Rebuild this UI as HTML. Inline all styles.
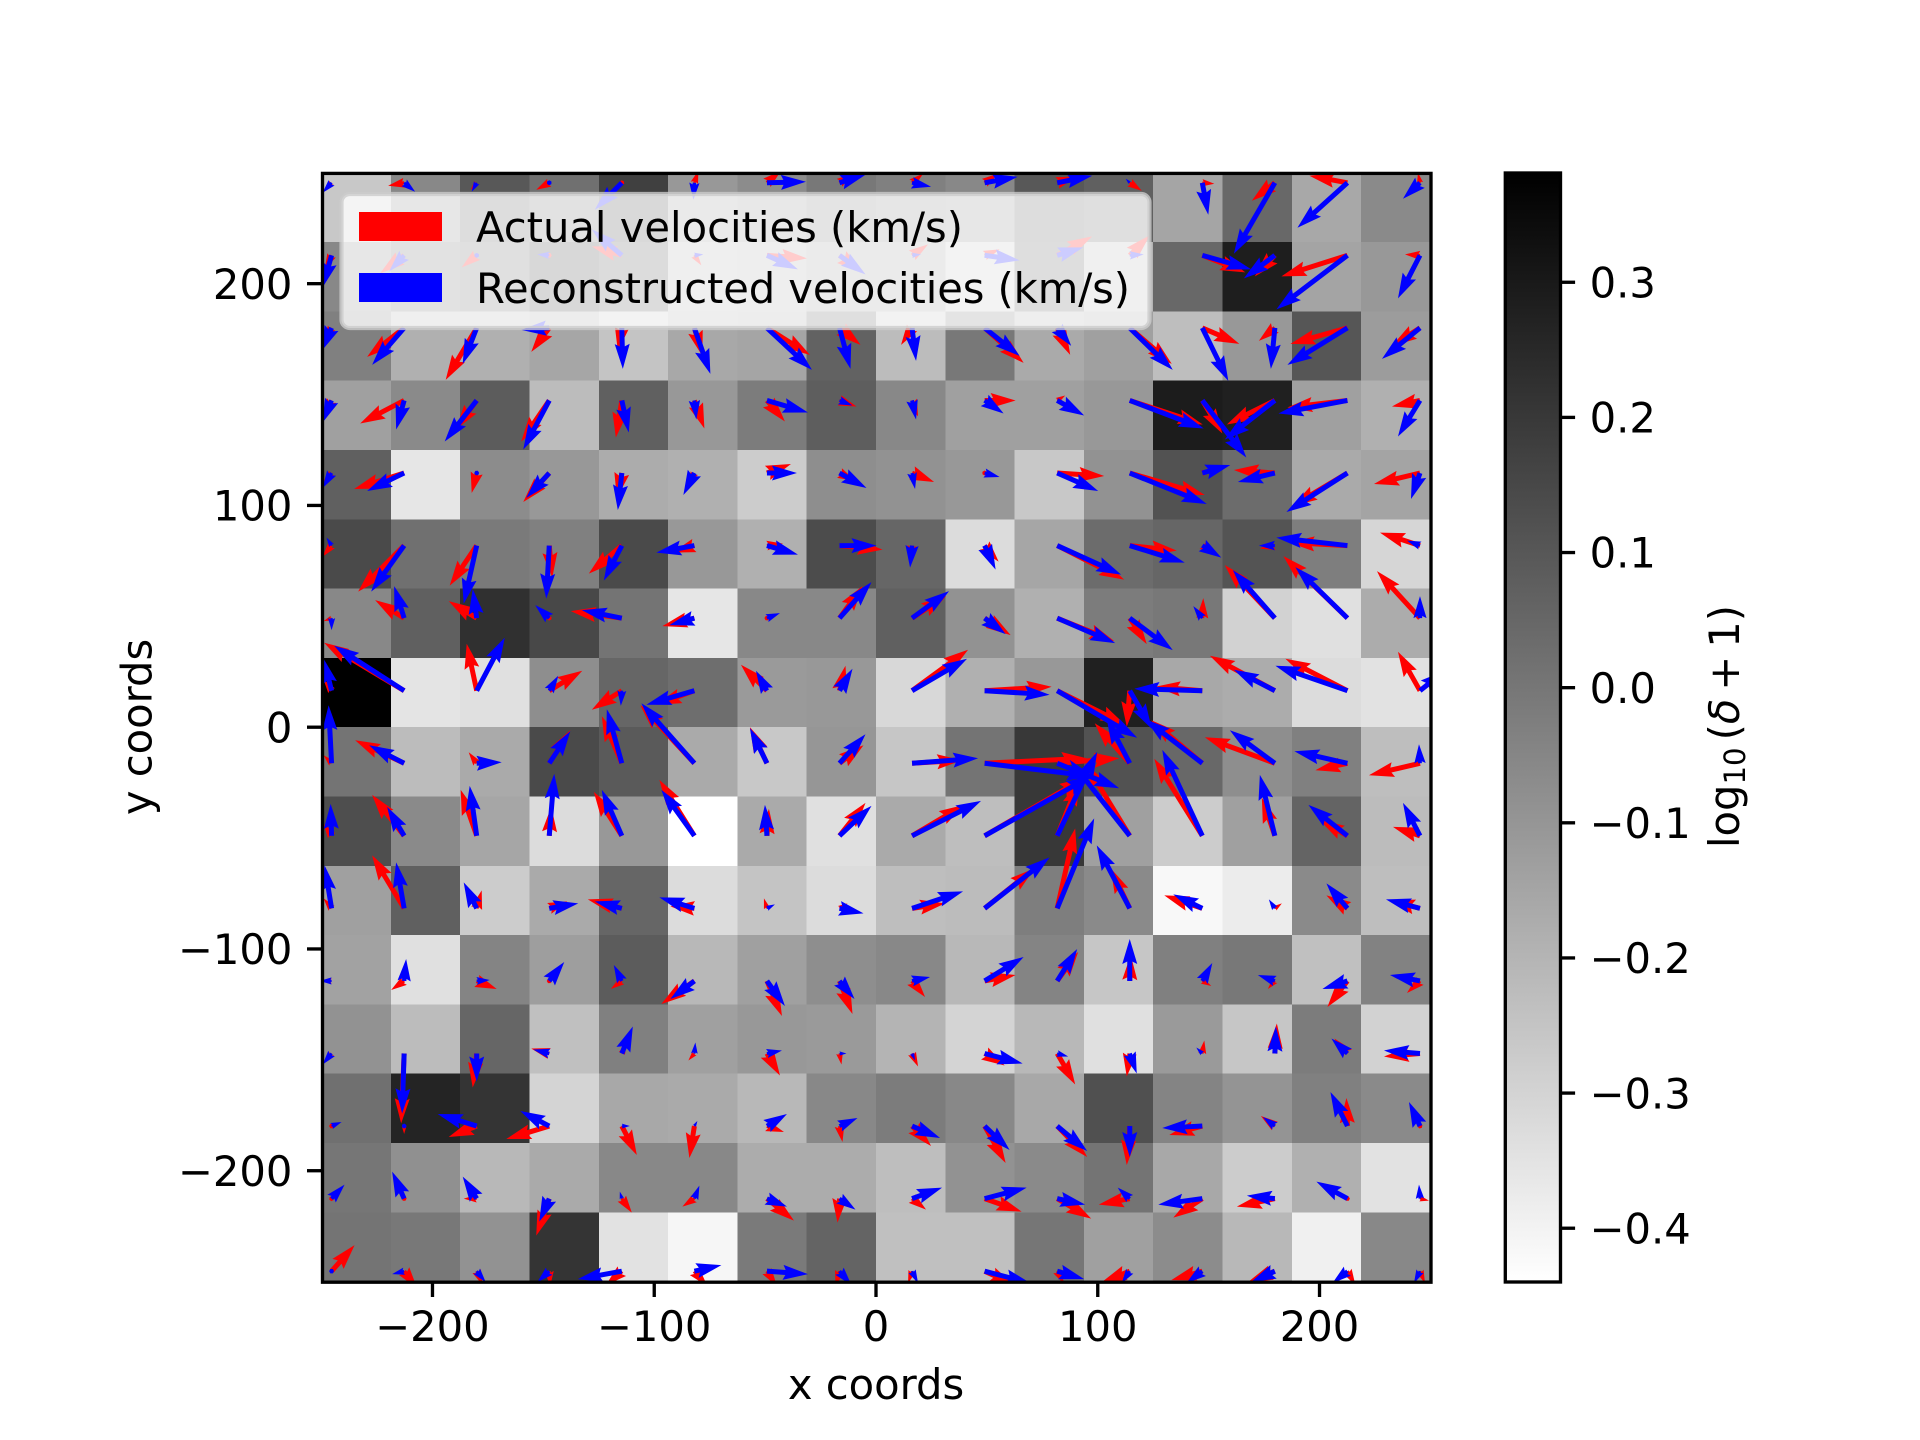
<!DOCTYPE html>
<html lang="en">
<head>
<meta charset="utf-8">
<title>Velocity field over density</title>
<style>
html,body{margin:0;padding:0;background:#fff;}
svg{display:block;}
text{font-family:"DejaVu Sans","Liberation Sans",sans-serif;font-size:41.67px;fill:#000;}
</style>
</head>
<body>
<svg id="chart" xmlns="http://www.w3.org/2000/svg" width="1920" height="1440" viewBox="0 0 1920 1440">
<defs>
<clipPath id="axes-clip"><rect x="322" y="173" width="1109" height="1109"/></clipPath>
<linearGradient id="cbar-gradient" x1="0" y1="0" x2="0" y2="1"><stop offset="0" stop-color="#000"/><stop offset="1" stop-color="#fff"/></linearGradient>
</defs>
<rect x="0" y="0" width="1920" height="1440" fill="#fff"/>
<g id="heatmap"></g>
<g id="quiver" clip-path="url(#axes-clip)"></g>
<g id="axis-ticks"></g>
<rect x="322.5" y="173.4" width="1108.5" height="1108.8" fill="none" stroke="#000" stroke-width="3.33"/>
<g>
<rect x="341.5" y="194" width="808" height="134" rx="8.3" ry="8.3" fill="#fff" fill-opacity="0.8" stroke="#ccc" stroke-opacity="0.8" stroke-width="4.17"/>
<rect x="359" y="212" width="83" height="29" fill="#f00"/>
<text x="476" y="242">Actual velocities (km/s)</text>
<rect x="359" y="273" width="83" height="29" fill="#00f"/>
<text x="476" y="303" textLength="654" lengthAdjust="spacing">Reconstructed velocities (km/s)</text>
</g>
<text x="876" y="1399" text-anchor="middle">x coords</text>
<text transform="translate(151.7 727) rotate(-90)" text-anchor="middle">y coords</text>
<rect x="1505.3" y="173" width="55.2" height="1109" fill="url(#cbar-gradient)" stroke="#000" stroke-width="3.33"/>
<g id="colorbar-ticks"></g>
<text transform="translate(1739 726.5) rotate(-90)" text-anchor="middle">log<tspan font-size="29.2" dy="6">10</tspan><tspan dy="-6" dx="7">(</tspan><tspan font-style="italic">δ</tspan><tspan dx="8">+</tspan><tspan dx="8">1</tspan><tspan>)</tspan></text>
</svg>
<script>
const logDensity = [
[-.263,-.057,.098,.021,.175,-.108,-.070,-.005,-.031,-.057,.098,.072,-.150,.046,-.160,-.063],
[-.057,.027,.059,.188,.124,-.182,-.166,-.118,-.118,-.246,.091,-.198,.046,.284,-.147,-.108],
[-.031,-.185,-.185,-.153,-.250,-.160,-.150,.066,-.224,-.005,-.166,-.134,-.230,-.108,.104,-.121],
[-.134,-.063,.085,-.224,.072,-.108,-.018,.079,-.057,-.134,-.134,-.108,.291,.278,-.134,-.185],
[.072,-.359,-.070,-.108,-.173,-.185,-.275,-.076,-.089,-.108,-.263,-.089,.117,.033,-.166,-.147],
[.143,.021,-.012,-.031,.143,-.108,-.185,.136,.053,-.327,-.153,.033,.053,.111,-.024,-.308],
[-.057,.072,.227,.149,.008,-.359,-.057,-.057,.072,-.089,-.185,-.018,-.005,-.295,-.340,-.173],
[.381,-.353,-.340,-.076,.053,.027,-.115,-.108,-.314,-.185,-.108,.278,-.160,-.173,-.327,-.346],
[.008,-.224,-.166,.143,.091,-.166,-.263,-.102,-.256,.008,.201,.117,.046,-.076,-.031,-.230],
[.130,-.063,-.153,-.327,-.108,-.440,-.166,-.340,-.166,-.230,.201,-.134,-.275,-.134,.059,-.224],
[-.134,.072,-.275,-.166,.053,-.327,-.250,-.327,-.230,-.224,-.024,-.063,-.417,-.378,-.063,-.230],
[-.140,-.340,-.044,-.127,.085,-.211,-.134,-.076,-.057,-.211,-.044,-.256,-.031,-.005,-.237,-.037],
[-.089,-.224,.053,-.237,-.031,-.134,-.108,-.115,-.198,-.301,-.211,-.340,-.115,-.256,-.018,-.295],
[.021,.265,.214,-.301,-.160,-.166,-.211,-.057,-.018,-.057,-.160,.124,-.044,-.095,-.031,-.063],
[.001,-.082,-.211,-.166,-.057,-.057,-.173,-.173,-.230,-.089,-.063,.008,-.160,-.275,-.185,-.346],
[.008,-.005,-.089,.214,-.346,-.411,-.012,.059,-.237,-.237,.001,-.134,-.070,-.211,-.391,-.057]
];
const actualU = [
[-7,-16,-6,-13,-3,4,14,13,11,13,19,12,12,-23,-38,-2],
[-7,-24,-15,-2,-30,7,40,22,16,15,35,20,43,-20,-66,-15],
[-8,-37,-31,-18,-4,8,43,21,-11,39,13,42,37,-16,-57,-28],
[-8,-44,-21,-28,-6,10,18,17,6,31,8,73,20,-48,-60,-28],
[-8,-50,-5,-26,-5,-6,24,16,22,-4,47,75,10,-41,-55,-46],
[-9,-46,-27,3,-33,-22,16,43,-2,14,67,47,10,-15,-58,-40],
[-8,-29,-28,-3,-51,-32,2,23,34,26,57,17,1,-50,-64,-43],
[-8,-80,-10,33,-30,-38,-26,6,56,67,68,-3,-47,-65,-62,-22],
[-8,-49,-8,21,-20,-54,-17,24,50,102,62,-35,-51,-70,-32,-51],
[-8,-32,-16,2,-28,-35,2,26,52,100,22,-44,-48,-13,-28,-27],
[-8,-32,5,18,-34,-24,-3,8,33,50,18,-19,-38,7,-21,-30],
[-10,-13,20,0,-11,-33,15,13,13,31,21,1,9,-7,-20,-13],
[-7,-3,-4,-18,5,-6,13,2,6,20,18,-3,2,2,-13,-36],
[1,0,-28,-43,15,-5,17,3,19,21,30,-3,-33,-14,-1,-1],
[3,0,-13,-13,10,-12,27,-2,14,37,34,-31,-29,-38,-1,9],
[23,13,6,1,-16,13,10,-4,-4,30,7,-28,-31,-27,8,5]
];
const actualV = [
[-7,-3,-7,-7,-3,12,12,9,9,9,6,-8,-1,-18,7,10],
[-14,-18,-12,0,9,-10,-3,-17,11,6,19,20,-17,-21,-21,1],
[-12,-29,-52,-24,-23,-28,-27,-17,-17,-35,-27,-36,-16,-13,-16,-18],
[-16,-23,-29,-41,-37,-28,-21,-6,-16,0,5,-24,-33,-24,-7,-6],
[-8,-16,-20,-29,-25,-12,9,-8,-9,2,-3,-22,3,3,-33,-11],
[-11,-46,-40,-32,-28,-7,2,-4,-15,-16,-34,-5,-9,-3,3,13],
[-3,18,17,2,7,-8,-4,32,22,-17,-23,-26,20,53,62,47],
[11,48,47,20,-19,-14,26,25,41,4,-34,-36,4,35,32,39],
[8,23,11,33,47,58,36,18,3,5,5,40,43,26,-7,-12],
[12,41,46,29,44,56,27,33,31,58,55,72,77,38,16,9],
[10,53,18,7,9,2,10,5,5,40,80,40,13,5,13,8],
[0,-9,-8,0,-8,-23,-35,-33,-16,6,29,26,-5,-8,-26,-12],
[-9,-70,-34,5,10,-7,-22,-11,-13,-12,-31,-23,13,30,15,-3],
[0,-8,-11,-13,-29,-32,-6,-16,-20,-37,-31,-39,-9,10,28,1],
[-2,0,0,-37,-14,-8,-22,-24,-11,-13,-20,-6,-19,-8,0,-2],
[26,-17,-14,-15,-14,-15,-15,-15,-12,-14,-13,-11,-9,-11,-14,-12]
];
const reconU = [
[-9,11,-5,-2,-27,-1,39,26,19,33,35,-4,6,-41,-50,-17],
[-9,-15,-2,-12,-30,9,31,26,9,35,26,14,49,-31,-71,-22],
[-10,-32,-14,-28,1,16,45,11,4,35,14,43,26,-4,-60,-38],
[-9,-8,-32,-26,7,2,41,13,4,19,27,74,44,-50,-69,-22],
[-9,-37,1,-23,-4,-11,30,27,3,15,41,77,28,-37,-61,-9],
[-5,-33,-13,-3,-18,-38,31,37,-2,11,64,55,19,-16,-71,-13],
[0,-10,-4,-14,-40,-25,13,32,37,21,58,43,-9,-42,-52,0],
[-8,-70,28,9,-1,-48,-11,13,55,65,80,22,-68,-41,-72,25],
[-3,-35,25,21,-15,-53,-17,26,66,107,62,-23,-57,-45,-53,-1],
[-1,-17,-7,5,-20,-33,-2,32,69,107,40,-60,-40,-15,-39,-17],
[-7,-8,-13,29,-27,-35,8,24,51,65,37,-33,-29,-6,-21,-34],
[-12,2,13,15,-8,-24,18,15,18,39,20,0,10,-17,-25,-30],
[-9,-2,0,-16,11,1,15,7,3,38,11,7,-6,1,-16,-36],
[10,4,-39,-29,8,3,20,18,28,25,30,0,-40,-12,-17,-11],
[13,-12,-14,-10,-2,5,20,16,30,42,28,-12,-44,-28,-31,-1],
[0,-12,9,-12,-44,27,41,12,6,46,27,-8,-16,-24,-15,-6]
];
const reconV = [
[-10,-9,-9,-1,-27,-17,1,8,-4,6,7,4,-32,-71,-45,-16],
[-32,-16,-1,1,26,1,-14,-19,1,-5,8,1,-14,-23,-54,-43],
[-23,-37,-36,-2,-41,-46,-42,-41,-33,-28,-18,-42,-53,-41,-37,-31],
[-22,-29,-41,-49,-32,-19,-12,-5,-19,-13,-15,-28,-57,-39,-13,-36],
[-15,-18,2,-25,-37,-22,0,-15,-16,-4,-18,-31,8,-9,-39,-26],
[8,-46,-58,-53,-35,-7,-9,0,-22,-24,-29,-17,-12,0,8,5],
[-12,32,29,13,8,-7,5,36,27,-16,-25,-32,12,48,51,22],
[32,45,53,15,-15,-14,20,22,32,-4,-47,-38,2,21,25,20],
[58,18,1,32,54,60,35,29,5,-13,-25,44,44,33,12,19],
[32,29,50,62,46,46,31,30,35,60,84,76,86,61,31,33],
[43,46,26,5,7,11,4,-5,17,51,90,63,14,9,25,9],
[0,22,1,19,16,-18,-25,-18,4,24,32,42,18,6,-8,6],
[-11,-60,-28,4,27,11,3,0,-7,-10,-3,-20,6,27,15,3],
[4,2,12,15,0,5,12,8,-12,-24,-25,-31,-2,9,34,24],
[14,27,22,-23,7,13,-8,-11,11,11,-6,11,-6,3,17,14],
[0,-3,-11,-11,-8,6,-3,-14,-12,-12,-8,-12,-12,-11,-12,-12]
];
const xTicks = [-200,-100,0,100,200];
const yTicks = [-200,-100,0,100,200];
const colorbarTicks = [0.3,0.2,0.1,0,-0.1,-0.2,-0.3,-0.4];

const SVGNS = 'http://www.w3.org/2000/svg';
const axLeft = 321.6, axTop = 172.8, axSize = 1108.8;
const dataMin = -250, dataMax = 250;
const vMin = -0.4395, vMax = 0.381;
const cbRight = 1560.5;
const gridStart = -245.5, gridStep = 32.72;
const quiverScale = 1;
const shaft = 5;

function xScale(x){ return axLeft + (x - dataMin) / (dataMax - dataMin) * axSize; }
function yScale(y){ return axTop + (dataMax - y) / (dataMax - dataMin) * axSize; }
function colorScale(v){ return axTop + (vMax - v) / (vMax - vMin) * axSize; }
function grayLevel(v){
  const t = Math.max(0, Math.min(1, (v - vMin) / (vMax - vMin)));
  const g = Math.round(255 * (1 - t));
  return 'rgb(' + g + ',' + g + ',' + g + ')';
}
function label(v, digits){
  const s = Math.abs(v).toFixed(digits);
  return (v < 0 ? '\u2212' : '') + s;
}
function add(parent, tag, attrs){
  const el = document.createElementNS(SVGNS, tag);
  for (const k in attrs) el.setAttribute(k, attrs[k]);
  parent.appendChild(el);
  return el;
}

const heatmap = document.getElementById('heatmap');
const cellSpan = (dataMax - dataMin) / logDensity.length;
logDensity.forEach(function(row, j){
  row.forEach(function(v, i){
    const x0 = xScale(dataMin + i * cellSpan), x1 = xScale(dataMin + (i + 1) * cellSpan);
    const y0 = yScale(dataMax - j * cellSpan), y1 = yScale(dataMax - (j + 1) * cellSpan);
    const cell = add(heatmap, 'rect', {x:x0, y:y0, width:x1 - x0, height:y1 - y0, fill:grayLevel(v), 'shape-rendering':'crispEdges'});
    
    
  });
});

function arrowPoints(tx, ty, u, v){
  const dx = u * quiverScale, dy = -v * quiverScale;
  const L = Math.hypot(dx, dy);
  const ca = L ? dx / L : 1, sa = L ? dy / L : 0;
  let local;
  if (L < shaft) {
    const r = shaft / 2;
    local = [[r,0],[r/2,r*.87],[-r/2,r*.87],[-r,0],[-r/2,-r*.87],[r/2,-r*.87]];
  } else {
    const s = Math.min(1, L / (5 * shaft));
    const w = shaft * s, hw = 1.5 * w, hl = 5 * w, hal = 4.5 * w;
    local = [[0,w/2],[L-hal,w/2],[L-hl,hw],[L,0],[L-hl,-hw],[L-hal,-w/2],[0,-w/2]];
  }
  return local.map(function(p){
    return (tx + p[0]*ca - p[1]*sa).toFixed(2) + ',' + (ty + p[0]*sa + p[1]*ca).toFixed(2);
  }).join(' ');
}
const quiver = document.getElementById('quiver');
function drawField(uu, vv, color, nameText){
  uu.forEach(function(row, j){
    row.forEach(function(u, i){
      const tx = xScale(gridStart + i * gridStep);
      const ty = yScale(-gridStart - j * gridStep);
      const arrow = add(quiver, 'polygon', {points:arrowPoints(tx, ty, u, vv[j][i]), fill:color});
      
      
    });
  });
}
drawField(actualU, actualV, '#f00', 'actual-velocity-arrow');
drawField(reconU, reconV, '#00f', 'reconstructed-velocity-arrow');

const axisTicks = document.getElementById('axis-ticks');
xTicks.forEach(function(t){
  const px = xScale(t);
  const mark = add(axisTicks, 'line', {x1:px, x2:px, y1:axTop + axSize, y2:axTop + axSize + 15.4, stroke:'#000', 'stroke-width':3.33});
  
  
  const txt = add(axisTicks, 'text', {x:px, y:1341, 'text-anchor':'middle'});
  txt.textContent = label(t, 0);
  
  
});
yTicks.forEach(function(t){
  const py = yScale(t);
  const mark = add(axisTicks, 'line', {x1:axLeft - 14.6, x2:axLeft, y1:py, y2:py, stroke:'#000', 'stroke-width':3.33});
  
  
  const txt = add(axisTicks, 'text', {x:292.4, y:py + 15.2, 'text-anchor':'end'});
  txt.textContent = label(t, 0);
  
  
});
const cbTicks = document.getElementById('colorbar-ticks');
colorbarTicks.forEach(function(t){
  const py = colorScale(t);
  const mark = add(cbTicks, 'line', {x1:cbRight, x2:cbRight + 14.6, y1:py, y2:py, stroke:'#000', 'stroke-width':3.33});
  
  
  const txt = add(cbTicks, 'text', {x:1589.6, y:py + 15.2});
  txt.textContent = label(t, 1);
  
  
});
</script>
</body>
</html>
